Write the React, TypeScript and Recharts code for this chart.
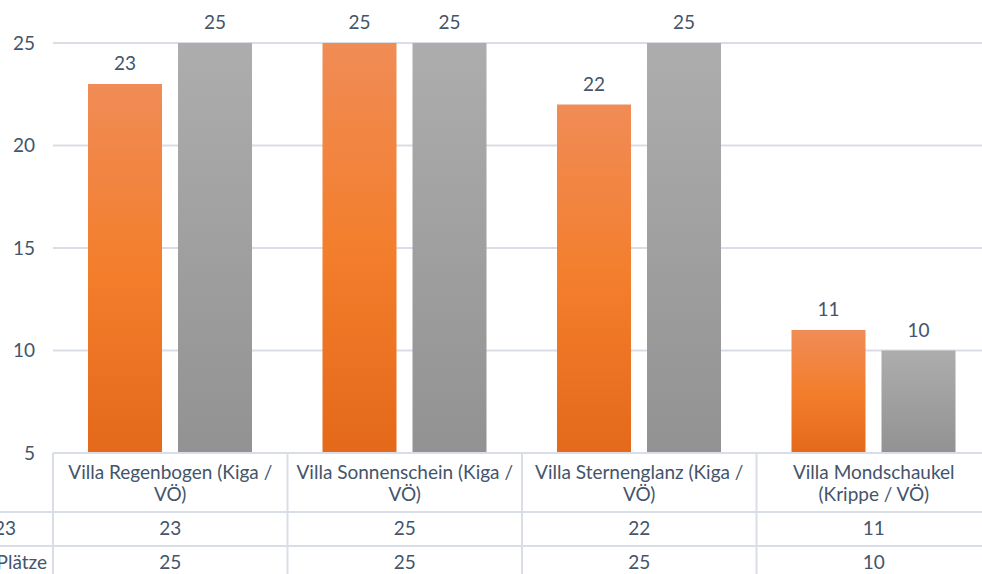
import React from 'react';
import { BarChart, Bar, XAxis, YAxis, CartesianGrid, LabelList } from 'recharts';

const categories = [
  'Villa Regenbogen (Kiga / VÖ)',
  'Villa Sonnenschein (Kiga / VÖ)',
  'Villa Sternenglanz (Kiga / VÖ)',
  'Villa Mondschaukel (Krippe / VÖ)',
];
const categoryLines = [
  ['Villa Regenbogen (Kiga /', 'VÖ)'],
  ['Villa Sonnenschein (Kiga /', 'VÖ)'],
  ['Villa Sternenglanz (Kiga /', 'VÖ)'],
  ['Villa Mondschaukel', '(Krippe / VÖ)'],
];
const seriesNames = ['23', 'Plätze'];
const kinder = [23, 25, 22, 11];
const plaetze = [25, 25, 25, 10];
const yTicks = [5, 10, 15, 20, 25];

const data = categories.map((c, i) => ({ name: c, idx: i, kinder: kinder[i], plaetze: plaetze[i] }));

const TEXT = '#44546A';
const LINE = '#D9DEE6';
const FONT = 'Lato, "Open Sans", sans-serif';
const FS = 19;

const HeaderTick = (props: any) => {
  const { x, y, payload, index, width } = props;
  const bw = width / categories.length;
  const lines = categoryLines[index] || [payload.value];
  const h = 59;
  const left = x - bw / 2;
  const right = x + bw / 2;
  return (
    <g>
      <line x1={left} y1={y} x2={left} y2={y + h} stroke={LINE} strokeWidth={2} />
      {index === categories.length - 1 && (
        <line x1={right} y1={y} x2={right} y2={y + h} stroke={LINE} strokeWidth={2} />
      )}
      <line x1={index === 0 ? left - 80 : left} y1={y + h} x2={right} y2={y + h} stroke={LINE} strokeWidth={2} />
      {lines.map((l: string, k: number) => (
        <text key={k} x={x} y={y + 26 + k * 22} textAnchor="middle" fill={TEXT} fontSize={FS} fontFamily={FONT}>
          {l}
        </text>
      ))}
    </g>
  );
};

const makeRowTick = (values: number[], label: string, labelEnd: number) => (props: any) => {
  const { x, y, index, width } = props;
  const bw = width / categories.length;
  const h = 34;
  const left = x - bw / 2;
  const right = x + bw / 2;
  return (
    <g>
      <line x1={left} y1={y} x2={left} y2={y + h} stroke={LINE} strokeWidth={2} />
      {index === categories.length - 1 && (
        <line x1={right} y1={y} x2={right} y2={y + h} stroke={LINE} strokeWidth={2} />
      )}
      <line x1={index === 0 ? left - 80 : left} y1={y + h} x2={right} y2={y + h} stroke={LINE} strokeWidth={2} />
      {index === 0 && (
        <text x={left - labelEnd} y={y + 23} textAnchor="end" fill={TEXT} fontSize={FS} fontFamily={FONT}>
          {label}
        </text>
      )}
      <text x={x} y={y + 23} textAnchor="middle" fill={TEXT} fontSize={FS} fontFamily={FONT}>
        {values[index]}
      </text>
    </g>
  );
};

const Row1Tick = makeRowTick(kinder, seriesNames[0], 37);
const Row2Tick = makeRowTick(plaetze, seriesNames[1], 6);

export default function App() {
  return (
    <div style={{ position: 'fixed', left: 0, top: 0, width: 982, height: 574, overflow: 'hidden', background: '#fff' }}>
      <BarChart
        width={1000}
        height={580}
        data={data}
        margin={{ top: 43, right: 9, left: 0, bottom: 0 }}
        barSize={74}
        barGap={16}
      >
        <defs>
          <linearGradient id="gOrange" x1="0" y1="0" x2="0" y2="1">
            <stop offset="0%" stopColor="#F08C56" />
            <stop offset="50%" stopColor="#F37E2C" />
            <stop offset="100%" stopColor="#E4691A" />
          </linearGradient>
          <linearGradient id="gGray" x1="0" y1="0" x2="0" y2="1">
            <stop offset="0%" stopColor="#ADADAD" />
            <stop offset="100%" stopColor="#929292" />
          </linearGradient>
        </defs>
        <CartesianGrid vertical={false} stroke={LINE} strokeWidth={2} />
        <YAxis
          width={53}
          domain={[5, 25]}
          ticks={yTicks}
          allowDataOverflow
          axisLine={false}
          tickLine={false}
          tickSize={0}
          tickMargin={18}
          tick={{ fill: TEXT, fontSize: FS, fontFamily: FONT }}
        />
        <XAxis
          dataKey="name"
          height={59}
          axisLine={{ stroke: LINE, strokeWidth: 2 }}
          tickLine={false}
          tickSize={0}
          tickMargin={0}
          interval={0}
          tick={<HeaderTick />}
        />
        <XAxis xAxisId="r1" dataKey="name" height={34} axisLine={false} tickLine={false} tickSize={0} tickMargin={0} interval={0} tick={<Row1Tick />} />
        <XAxis xAxisId="r2" dataKey="name" height={34} axisLine={false} tickLine={false} tickSize={0} tickMargin={0} interval={0} tick={<Row2Tick />} />
        <Bar dataKey="kinder" name={seriesNames[0]} fill="url(#gOrange)" isAnimationActive={false}>
          <LabelList dataKey="kinder" position="top" offset={14} fill={TEXT} fontSize={FS} fontFamily={FONT} />
        </Bar>
        <Bar dataKey="plaetze" name={seriesNames[1]} fill="url(#gGray)" isAnimationActive={false}>
          <LabelList dataKey="plaetze" position="top" offset={14} fill={TEXT} fontSize={FS} fontFamily={FONT} />
        </Bar>
      </BarChart>
    </div>
  );
}
